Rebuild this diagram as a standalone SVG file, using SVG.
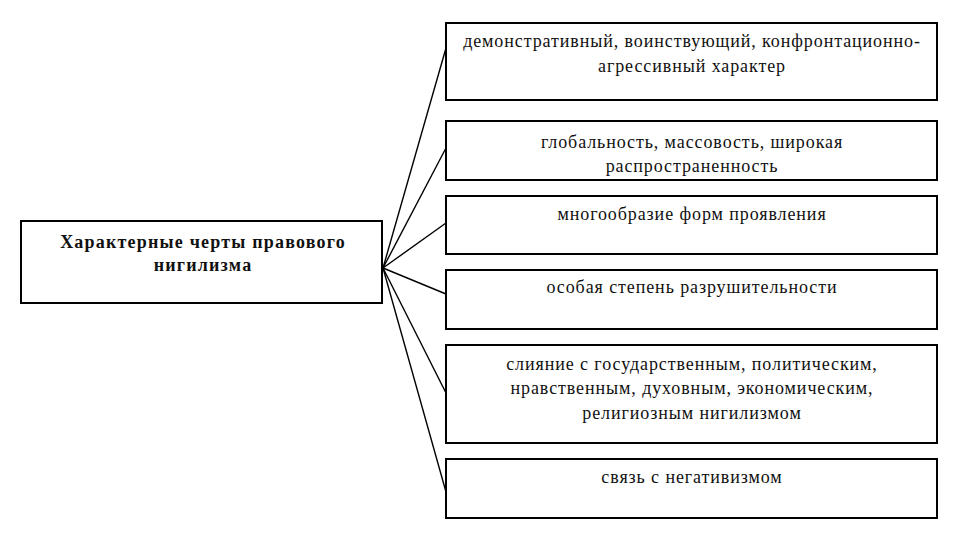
<svg xmlns="http://www.w3.org/2000/svg" width="960" height="540" viewBox="0 0 960 540">
<style>
.box{fill:#fff;stroke:#000;stroke-width:2}
.t{font-family:"Liberation Serif","DejaVu Serif",serif;font-size:18px;letter-spacing:0.9px;fill:#111;text-anchor:middle}
.b{font-family:"Liberation Serif","DejaVu Serif",serif;font-size:18px;letter-spacing:1.2px;font-weight:bold;fill:#111;text-anchor:middle}
.c{stroke:#000;stroke-width:1.4;fill:none}
</style>
<rect width="960" height="540" fill="#fff"/>
<g id="connectors">
<line class="c" x1="383" y1="268" x2="446" y2="48"/>
<line class="c" x1="383" y1="268" x2="446" y2="148"/>
<line class="c" x1="383" y1="268" x2="446" y2="223"/>
<line class="c" x1="383" y1="268" x2="446" y2="294"/>
<line class="c" x1="383" y1="268" x2="446" y2="393"/>
<line class="c" x1="383" y1="268" x2="446" y2="492"/>
</g>
<g id="root">
<rect class="box" x="21" y="221" width="361" height="82"/>
<text class="b" x="203" y="248">Характерные черты правового</text>
<text class="b" x="203" y="271">нигилизма</text>
</g>
<g id="n1">
<rect class="box" x="446" y="23" width="491" height="77"/>
<text class="t" x="692" y="47">демонстративный, воинствующий, конфронтационно-</text>
<text class="t" x="692" y="72">агрессивный характер</text>
</g>
<g id="n2">
<rect class="box" x="446" y="121" width="491" height="59"/>
<text class="t" x="692" y="148">глобальность, массовость, широкая</text>
<text class="t" x="692" y="172">распространенность</text>
</g>
<g id="n3">
<rect class="box" x="446" y="196" width="491" height="58"/>
<text class="t" x="692" y="220">многообразие форм проявления</text>
</g>
<g id="n4">
<rect class="box" x="446" y="270" width="491" height="59"/>
<text class="t" x="692" y="293">особая степень разрушительности</text>
</g>
<g id="n5">
<rect class="box" x="446" y="345" width="491" height="98"/>
<text class="t" x="692" y="370">слияние с государственным, политическим,</text>
<text class="t" x="692" y="394">нравственным, духовным, экономическим,</text>
<text class="t" x="692" y="419">религиозным нигилизмом</text>
</g>
<g id="n6">
<rect class="box" x="446" y="459" width="491" height="59"/>
<text class="t" x="692" y="483">связь с негативизмом</text>
</g>
</svg>
